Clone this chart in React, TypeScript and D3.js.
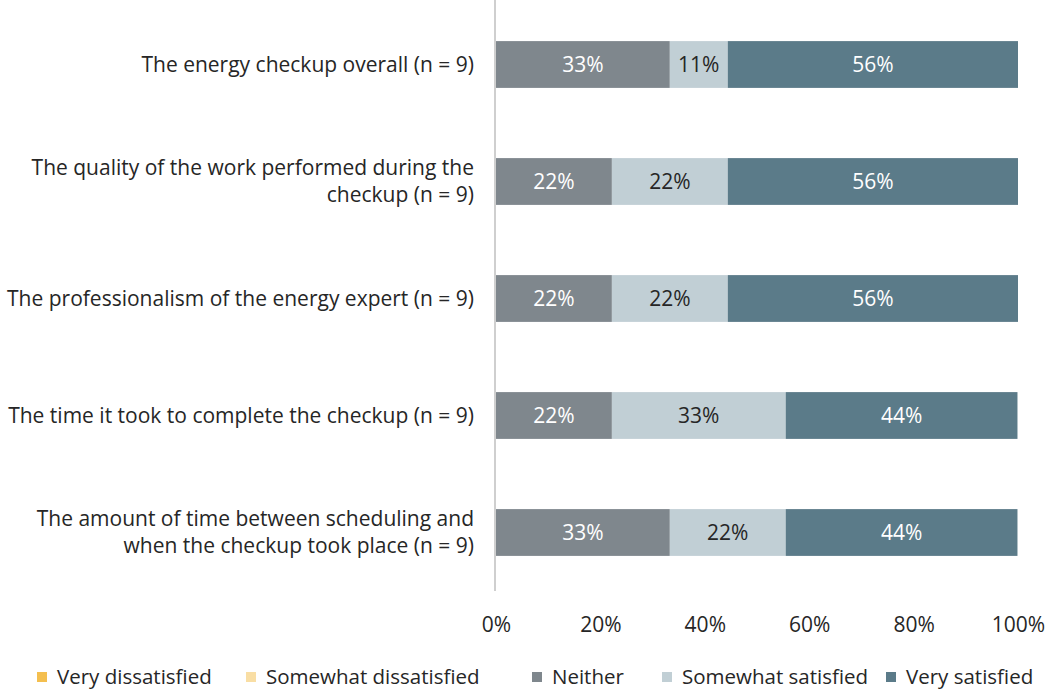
import * as d3 from 'd3'
import { useRef, useEffect } from 'react'

const categories = [
  ['The energy checkup overall (n = 9)'],
  ['The quality of the work performed during the', 'checkup (n = 9)'],
  ['The professionalism of the energy expert (n = 9)'],
  ['The time it took to complete the checkup (n = 9)'],
  ['The amount of time between scheduling and', 'when the checkup took place (n = 9)'],
]
const seriesNames = ['Very dissatisfied', 'Somewhat dissatisfied', 'Neither', 'Somewhat satisfied', 'Very satisfied']
const seriesColors = ['#f4bf4f', '#f9dea4', '#7f878d', '#c1cfd5', '#5b7b89']
const labelColors = ['#262626', '#262626', '#ffffff', '#262626', '#ffffff']
const veryDissatisfied = [0, 0, 0, 0, 0]
const somewhatDissatisfied = [0, 0, 0, 0, 0]
const neither = [33.3, 22.2, 22.2, 22.2, 33.3]
const somewhatSatisfied = [11.1, 22.2, 22.2, 33.3, 22.2]
const verySatisfied = [55.6, 55.6, 55.6, 44.4, 44.4]
const ticks = [0, 20, 40, 60, 80, 100]
const legendX = [37, 246, 532, 662, 886]

const W = 1047
const H = 690
const FONT = "'Open Sans', 'Noto Sans', sans-serif"
const INK = '#262626'

export default function App() {
  const svgRef = useRef<SVGSVGElement>(null)

  useEffect((): void => {
    const svg = d3.select(svgRef.current)
    svg.selectAll('*').remove()

    const x = d3.scaleLinear().domain([0, 100]).range([496, 1018])
    const y = d3.scaleBand<number>()
      .domain(d3.range(categories.length))
      .range([6, 591])
      .paddingInner(0.6)
      .paddingOuter(0.3)

    const series = [veryDissatisfied, somewhatDissatisfied, neither, somewhatSatisfied, verySatisfied]
    const table = categories.map((_, i) => {
      const row: Record<string, number> = {}
      seriesNames.forEach((s, k) => { row[s] = series[k][i] })
      return row
    })
    const stacked = d3.stack<Record<string, number>>().keys(seriesNames)(table)

    // vertical axis line
    svg.append('line')
      .attr('x1', x(0) - 1).attr('x2', x(0) - 1)
      .attr('y1', 0).attr('y2', 591)
      .attr('stroke', '#cfcfcf').attr('stroke-width', 2)

    stacked.forEach((layer, k) => {
      const g = svg.append('g')
      layer.forEach((d, i) => {
        const w = x(d[1]) - x(d[0])
        if (w <= 0) return
        g.append('rect')
          .attr('x', x(d[0])).attr('y', y(i)!)
          .attr('width', w).attr('height', y.bandwidth())
          .attr('fill', seriesColors[k])
        g.append('text')
          .attr('x', (x(d[0]) + x(d[1])) / 2)
          .attr('y', y(i)! + y.bandwidth() / 2)
          .attr('dy', '0.35em')
          .attr('text-anchor', 'middle')
          .attr('font-family', FONT).attr('font-size', 21)
          .attr('fill', labelColors[k])
          .text(`${Math.round(series[k][i])}%`)
      })
    })

    // category labels
    categories.forEach((lines, i) => {
      const cy = y(i)! + y.bandwidth() / 2
      const t = svg.append('text')
        .attr('text-anchor', 'end')
        .attr('font-family', FONT).attr('font-size', 21)
        .attr('fill', INK)
      lines.forEach((ln, j) => {
        t.append('tspan')
          .attr('x', 474)
          .attr('y', cy + (j - (lines.length - 1) / 2) * 27)
          .attr('dy', '0.35em')
          .text(ln)
      })
    })

    // x axis tick labels
    const axis = d3.axisBottom(x).tickValues(ticks).tickSize(0).tickFormat(d => `${d}%`)
    const ax = svg.append('g').attr('transform', 'translate(0,614)').call(axis)
    ax.select('.domain').remove()
    ax.selectAll('text')
      .attr('font-family', FONT).attr('font-size', 21).attr('fill', INK)

    // legend
    seriesNames.forEach((s, k) => {
      svg.append('rect')
        .attr('x', legendX[k]).attr('y', 672)
        .attr('width', 10).attr('height', 10)
        .attr('fill', seriesColors[k])
      svg.append('text')
        .attr('x', legendX[k] + 20).attr('y', 677)
        .attr('dy', '0.35em')
        .attr('font-family', FONT).attr('font-size', 20.5).attr('fill', INK)
        .text(s)
    })
  }, [])

  return (
    <svg ref={svgRef} width={W} height={H}
      style={{ position: 'absolute', left: 0, top: 0, background: '#fff' }} />
  )
}
